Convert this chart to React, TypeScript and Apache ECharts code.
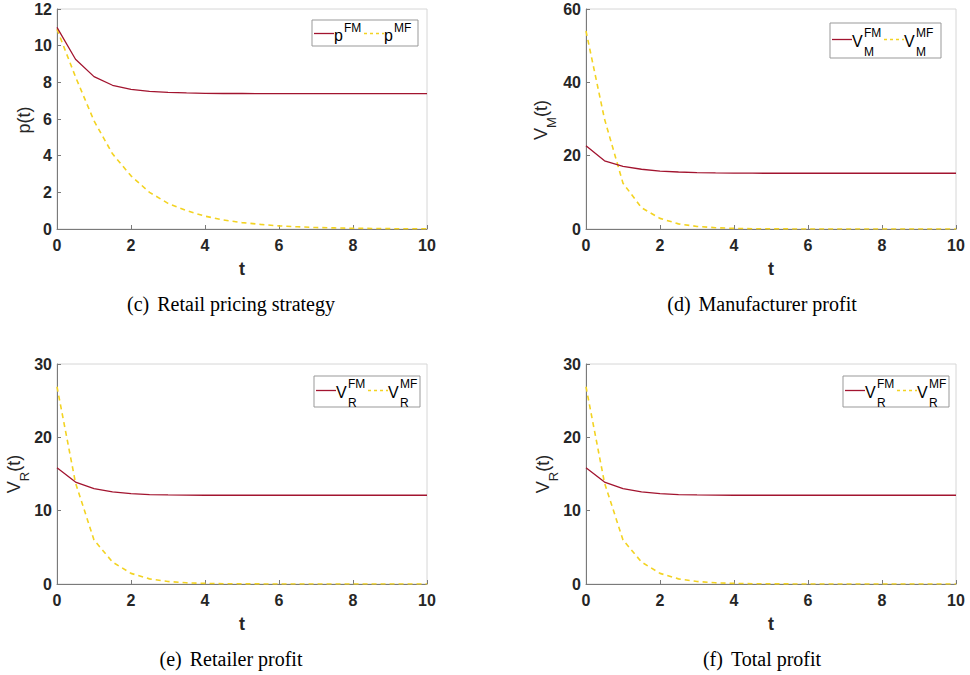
import React, { useEffect, useRef } from "react";
import * as echarts from "echarts";

// time grid
const T = [0, 0.5, 1, 1.5, 2, 2.5, 3, 3.5, 4, 4.5, 5, 5.5, 6, 6.5, 7, 7.5, 8, 8.5, 9, 9.5, 10];

// (c) retail price p(t)
const P_FM = [11.0, 9.26, 8.31, 7.84, 7.62, 7.51, 7.45, 7.42, 7.4, 7.39, 7.39, 7.38, 7.38, 7.38, 7.38, 7.38, 7.38, 7.38, 7.38, 7.38, 7.38];
const P_MF = [10.9, 8.3, 5.9, 4.1, 2.9, 2.0, 1.4, 1.0, 0.7, 0.49, 0.35, 0.25, 0.17, 0.12, 0.08, 0.06, 0.04, 0.03, 0.02, 0.01, 0.01];

// (d) manufacturer profit V_M(t)
const VM_FM = [22.7, 18.6, 17.1, 16.3, 15.8, 15.55, 15.4, 15.3, 15.25, 15.22, 15.2, 15.2, 15.2, 15.2, 15.2, 15.2, 15.2, 15.2, 15.2, 15.2, 15.2];
const VM_MF = [54.0, 30.0, 12.5, 5.8, 2.9, 1.4, 0.7, 0.35, 0.17, 0.08, 0.04, 0.02, 0.01, 0.01, 0, 0, 0, 0, 0, 0, 0];

// (e) retailer profit V_R(t)
const VR_FM = [15.85, 13.9, 13.0, 12.55, 12.32, 12.2, 12.15, 12.12, 12.1, 12.1, 12.1, 12.1, 12.1, 12.1, 12.1, 12.1, 12.1, 12.1, 12.1, 12.1, 12.1];
const VR_MF = [26.9, 13.8, 6.0, 3.0, 1.45, 0.7, 0.34, 0.16, 0.08, 0.04, 0.02, 0.01, 0, 0, 0, 0, 0, 0, 0, 0, 0];

// (f) total profit (as drawn, labelled V_R)
const VT_FM = [15.85, 13.9, 13.0, 12.55, 12.32, 12.2, 12.15, 12.12, 12.1, 12.1, 12.1, 12.1, 12.1, 12.1, 12.1, 12.1, 12.1, 12.1, 12.1, 12.1, 12.1];
const VT_MF = [26.9, 13.8, 6.0, 3.0, 1.45, 0.7, 0.34, 0.16, 0.08, 0.04, 0.02, 0.01, 0, 0, 0, 0, 0, 0, 0, 0, 0];

const Y_MAX = [12, 60, 30, 30];
const Y_STEP = [2, 20, 10, 10];
const X_TICKS = [0, 2, 4, 6, 8, 10];
const SUBTITLES = [
  ["(c)", "Retail pricing strategy"],
  ["(d)", "Manufacturer profit"],
  ["(e)", "Retailer profit"],
  ["(f)", "Total profit"],
];
const X_NAME = "t";

const RED = "#A2142F";
const YEL = "#F3D322";
const SANS = "'Liberation Sans', Arial, Helvetica, sans-serif";
const SERIF = "'Liberation Serif', 'Times New Roman', serif";
const TXT = "#262626";

const GRIDS = [
  { left: 57, top: 9, width: 370, height: 220 },
  { left: 586, top: 9, width: 370, height: 220 },
  { left: 57, top: 364, width: 370, height: 220 },
  { left: 586, top: 364, width: 370, height: 220 },
];

const pairs = (ys: number[]) => T.map((t, i) => [t, ys[i]]);

function txt(x: number, y: number, text: string, size: number, extra: any = {}) {
  return {
    type: "text",
    x,
    y,
    silent: true,
    style: {
      text,
      fontSize: size,
      fontFamily: SANS,
      fill: "#000",
      align: "left",
      verticalAlign: "middle",
      textAlign: "left",
      textVerticalAlign: "middle",
      ...extra,
    },
  };
}

function legend(bx: number, by: number, bw: number, bh: number, letter: string, sub: string | null) {
  const ly = by + bh / 2 + (sub ? -1 : 0.5);
  const mainY = ly + 2;
  const supY = sub ? ly - 7 : ly - 5.5;
  const subY = ly + 12;
  const children: any[] = [
    { type: "rect", shape: { x: bx, y: by, width: bw, height: bh }, style: { fill: "#fff", stroke: "#999", lineWidth: 1 } },
    { type: "line", shape: { x1: bx + 2, y1: ly, x2: bx + 22, y2: ly }, style: { stroke: RED, lineWidth: 1.3 } },
  ];
  const w = letter === "p" ? 9 : 11;
  const x1 = bx + 22;
  children.push(txt(x1, mainY, letter, 16));
  children.push(txt(x1 + w + 1, supY, "FM", 12));
  if (sub) children.push(txt(x1 + w + 1, subY, sub, 12));
  const x2 = x1 + w + 21;
  children.push({
    type: "line",
    shape: { x1: x2, y1: ly, x2: x2 + 20, y2: ly },
    style: { stroke: YEL, lineWidth: 1.5, lineDash: [3, 3] },
  });
  const x3 = x2 + 20;
  children.push(txt(x3, mainY, letter, 16));
  children.push(txt(x3 + w + 1, supY, "MF", 12));
  if (sub) children.push(txt(x3 + w + 1, subY, sub, 12));
  return { type: "group", children };
}

function yName(cx: number, cy: number, sub: string | null) {
  // rotated label; local +y maps to screen +x
  const text = sub ? "{m|V}{s|" + sub + "}{m|(t)}" : "{m|p(t)}";
  return {
    type: "group",
    x: sub ? cx + 4 : cx,
    y: cy,
    rotation: Math.PI / 2,
    children: [
      {
        type: "text",
        x: 0,
        y: 0,
        silent: true,
        style: {
          text,
          align: "center",
          verticalAlign: "middle",
          textAlign: "center",
          textVerticalAlign: "middle",
          fill: TXT,
          rich: sub
            ? {
                m: { fontSize: 18, lineHeight: 18, padding: [0, 0, 8, 0], fontFamily: SANS, fill: TXT },
                s: { fontSize: 13, lineHeight: 13, padding: [13, 0, 0, 0], fontFamily: SANS, fill: TXT },
              }
            : { m: { fontSize: 18, lineHeight: 18, fontFamily: SANS, fill: TXT } },
        },
      },
    ],
  };
}

function subtitle(cx: number, cy: number, s: string[]) {
  return {
    type: "text",
    x: cx,
    y: cy,
    silent: true,
    style: {
      text: "{a|" + s[0] + "}{b|" + s[1] + "}",
      align: "center",
      verticalAlign: "middle",
      textAlign: "center",
      textVerticalAlign: "middle",
      rich: {
        a: { fontSize: 20, fontFamily: SERIF, fill: "#000", padding: [0, 8, 0, 0] },
        b: { fontSize: 20, fontFamily: SERIF, fill: "#000" },
      },
    },
  };
}

export default function App() {
  const ref = useRef<HTMLDivElement>(null);
  useEffect(() => {
    if (!ref.current) return;
    const chart = echarts.init(ref.current, null, { renderer: "svg" });
    const seriesData = [
      [P_FM, P_MF],
      [VM_FM, VM_MF],
      [VR_FM, VR_MF],
      [VT_FM, VT_MF],
    ];
    const grid = GRIDS.map((g) => ({ ...g, show: true, borderColor: "#d6d6d6", borderWidth: 1, backgroundColor: "#fff" }));
    const xAxis = GRIDS.map((_, i) => ({
      type: "value",
      gridIndex: i,
      min: 0,
      max: 10,
      interval: 2,
      name: X_NAME,
      nameLocation: "middle",
      nameGap: 31,
      nameTextStyle: { fontSize: 18, fontWeight: "bold", color: TXT, fontFamily: SANS },
      axisLine: { show: true, lineStyle: { color: "#7a7a7a", width: 1 } },
      axisTick: { show: true, inside: true, length: 4, lineStyle: { color: "#7a7a7a" } },
      axisLabel: {
        fontSize: 16,
        fontWeight: "bold",
        color: TXT,
        fontFamily: SANS,
        margin: 8,
        formatter: (v: number) => (X_TICKS.indexOf(v) >= 0 ? String(v) : ""),
      },
      splitLine: { show: false },
    }));
    const yAxis = GRIDS.map((_, i) => ({
      type: "value",
      gridIndex: i,
      min: 0,
      max: Y_MAX[i],
      interval: Y_STEP[i],
      axisLine: { show: true, lineStyle: { color: "#7a7a7a", width: 1 } },
      axisTick: { show: true, inside: true, length: 4, lineStyle: { color: "#7a7a7a" } },
      axisLabel: { fontSize: 16, fontWeight: "bold", color: TXT, fontFamily: SANS, margin: 5 },
      splitLine: { show: false },
    }));
    const series: any[] = [];
    seriesData.forEach((pair, i) => {
      series.push({
        type: "line",
        name: "FM" + i,
        xAxisIndex: i,
        yAxisIndex: i,
        data: pairs(pair[0]),
        showSymbol: false,
        lineStyle: { color: RED, width: 1.3 },
        z: 3,
      });
      series.push({
        type: "line",
        name: "MF" + i,
        xAxisIndex: i,
        yAxisIndex: i,
        data: pairs(pair[1]),
        showSymbol: false,
        lineStyle: { color: YEL, width: 1.6, type: [5, 4] },
        z: 2,
      });
    });
    const graphic: any[] = [
      legend(312, 20, 106, 26, "p", null),
      legend(830, 23, 111, 35, "V", "M"),
      legend(314, 376, 106, 31, "V", "R"),
      legend(843, 376, 106, 31, "V", "R"),
      yName(24, 120, null),
      yName(541, 120, "M"),
      yName(14, 474, "R"),
      yName(543, 474, "R"),
      subtitle(231, 304, SUBTITLES[0]),
      subtitle(762, 304, SUBTITLES[1]),
      subtitle(231, 659, SUBTITLES[2]),
      subtitle(762, 659, SUBTITLES[3]),
    ];
    chart.setOption({
      animation: false,
      backgroundColor: "#fff",
      grid,
      xAxis,
      yAxis,
      series,
      graphic,
    });
    return () => chart.dispose();
  }, []);
  return <div ref={ref} style={{ position: "fixed", left: 0, top: 0, width: 970, height: 675, background: "#fff" }} />;
}
